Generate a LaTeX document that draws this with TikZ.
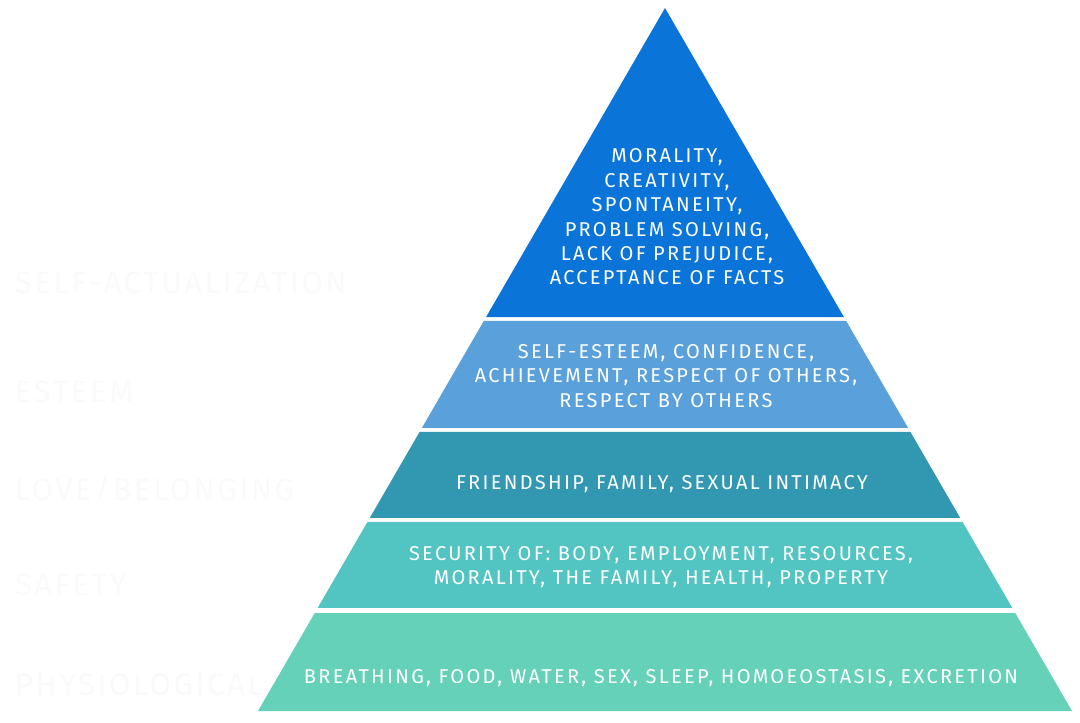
\documentclass[tikz,border=0pt]{standalone}
\usepackage{fontspec}
\newfontfamily\pyrfont[LetterSpace=11.5]{Fira Sans}
\newfontfamily\sidefont[LetterSpace=8]{Fira Sans}
\usetikzlibrary{positioning,calc}
\definecolor{lvl_top}{RGB}{10,116,216}
\definecolor{lvl_esteem}{RGB}{90,160,218}
\definecolor{lvl_love}{RGB}{50,152,178}
\definecolor{lvl_safety}{RGB}{82,196,193}
\definecolor{lvl_base}{RGB}{102,209,185}

\begin{document}
\begin{tikzpicture}[x=1pt,y=-1pt,
    level_text/.style={text=white,align=center,font=\pyrfont\fontsize{20}{24.4}\selectfont,inner sep=0pt},
    side_label/.style={text=black!2,anchor=west,font=\sidefont\fontsize{31}{36}\selectfont,inner sep=0pt}]
    \useasboundingbox (0,0) rectangle (1080,723);
    \coordinate (apex) at (665,8);
    \coordinate (base_left) at (258,711);
    \coordinate (base_right) at (1072,711);

    % Level names (almost white)
    \node[side_label] (label_self) at (15,283) {SELF-ACTUALIZATION};
    \node[side_label] (label_esteem) at (15,392) {ESTEEM};
    \node[side_label] (label_love) at (15,490) {LOVE/BELONGING};
    \node[side_label] (label_safety) at (15,585) {SAFETY};
    \node[side_label] (label_base) at (15,685) {PHYSIOLOGICAL};

    % Bands of the pyramid
    \foreach \ya/\yb/\col in {8/317/lvl_top,321/428/lvl_esteem,432/518/lvl_love,522/608/lvl_safety,613/711/lvl_base}
        \fill[\col] ($(apex)!{(\ya-8)/703}!(base_left)$) -- ($(apex)!{(\yb-8)/703}!(base_left)$)
            -- ($(apex)!{(\yb-8)/703}!(base_right)$) -- ($(apex)!{(\ya-8)/703}!(base_right)$) -- cycle;

    % Texts inside the bands
    \node[level_text] (level_top) at (667,217) {MORALITY,\\CREATIVITY,\\SPONTANEITY,\\PROBLEM SOLVING,\\LACK OF PREJUDICE,\\ACCEPTANCE OF FACTS};
    \node[level_text] (level_esteem) at (666,376) {SELF-ESTEEM, CONFIDENCE,\\ACHIEVEMENT, RESPECT OF OTHERS,\\RESPECT BY OTHERS};
    \node[level_text] (level_love) at (662,484) {FRIENDSHIP, FAMILY, SEXUAL INTIMACY};
    \node[level_text] (level_safety) at (661,567) {SECURITY OF: BODY, EMPLOYMENT, RESOURCES,\\MORALITY, THE FAMILY, HEALTH, PROPERTY};
    \node[level_text] (level_base) at (661,678) {BREATHING, FOOD, WATER, SEX, SLEEP, HOMOEOSTASIS, EXCRETION};
\end{tikzpicture}
\end{document}
